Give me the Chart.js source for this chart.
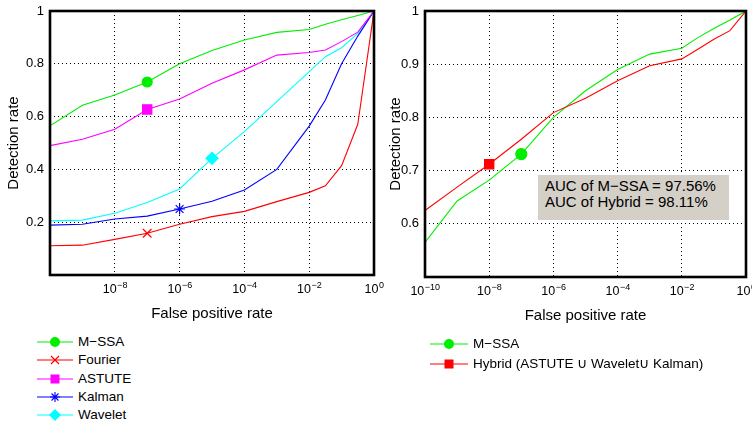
<!DOCTYPE html>
<html><head><meta charset="utf-8">
<script src="https://cdn.jsdelivr.net/npm/chart.js@4/dist/chart.umd.min.js"></script>
<style>
html,body{margin:0;padding:0;background:#fff;}
body{width:752px;height:427px;overflow:hidden;position:relative;font-family:"Liberation Sans",Arial,sans-serif;color:#000;}
#c1{position:absolute;left:0;top:0;}
#c2{position:absolute;left:380px;top:0;}
.row{position:absolute;white-space:nowrap;height:18px;line-height:18px;font-size:13.5px;}
.row svg{position:absolute;left:0;top:0;}
.row span{position:absolute;top:0;}
#auc{position:absolute;left:538px;top:175px;width:191px;height:45px;background:#d4d0c8;font-size:15px;line-height:16px;padding:3px 0 0 7px;box-sizing:border-box;white-space:nowrap;}
</style>
</head><body>
<canvas id="c1" width="395" height="330"></canvas>
<canvas id="c2" width="372" height="330"></canvas>
<div id="auc"></div>
<div id="legL"></div>
<div id="legR"></div>
<script>
// ---- data ----
const fpr      = [1e-10, 1e-9, 1e-8, 1e-7, 1e-6, 1e-5, 1e-4, 1e-3, 1e-2, 0.0316, 0.1, 0.316, 1];
const msSA     = [0.565, 0.643, 0.682, 0.731, 0.800, 0.850, 0.890, 0.919, 0.930, 0.950, 0.967, 0.983, 1.0];
const fourier  = [0.111, 0.113, 0.135, 0.158, 0.192, 0.221, 0.241, 0.278, 0.313, 0.338, 0.414, 0.571, 1.0];
const astute   = [0.490, 0.514, 0.552, 0.627, 0.667, 0.726, 0.777, 0.833, 0.843, 0.852, 0.884, 0.920, 1.0];
const kalman   = [0.189, 0.192, 0.212, 0.223, 0.250, 0.279, 0.322, 0.400, 0.564, 0.663, 0.800, 0.905, 1.0];
const wavelet  = [0.205, 0.208, 0.234, 0.275, 0.326, 0.442, 0.543, 0.657, 0.770, 0.827, 0.861, 0.915, 1.0];
const hybrid   = [0.625, 0.669, 0.712, 0.759, 0.809, 0.836, 0.869, 0.897, 0.910, 0.928, 0.947, 0.963, 1.0];

const leftXTicks   = [1e-8, 1e-6, 1e-4, 1e-2, 1];
const leftXLabels  = ['10^\u22128', '10^\u22126', '10^\u22124', '10^\u22122', '10^0'];
const rightXTicks  = [1e-10, 1e-8, 1e-6, 1e-4, 1e-2, 1];
const rightXLabels = ['10^\u221210', '10^\u22128', '10^\u22126', '10^\u22124', '10^\u22122', '10^0'];
const leftYTicks   = [0.2, 0.4, 0.6, 0.8, 1];
const leftYLabels  = ['0.2', '0.4', '0.6', '0.8', '1'];
const rightYTicks  = [0.6, 0.7, 0.8, 0.9, 1];
const rightYLabels = ['0.6', '0.7', '0.8', '0.9', '1'];
const aucLines = ['AUC of M\u2212SSA = 97.56%', 'AUC of Hybrid = 98.11%'];
const leftNames  = ['M\u2212SSA', 'Fourier', 'ASTUTE', 'Kalman', 'Wavelet'];
const rightNames = ['M\u2212SSA', 'Hybrid (ASTUTE \u222A Wavelet\u222A Kalman)'];
const xTitle = 'False positive rate';
const yTitle = 'Detection rate';

// ---- styles ----
const FONT = '"Liberation Sans", Arial, sans-serif';
const styles = {
  msSA:    {color:'#00ee00', style:'circle',   r:5,   mi:3},
  fourier: {color:'#ff0000', style:'crossRot', r:6,   mi:3},
  astute:  {color:'#ff00ff', style:'rect',     r:6.5, mi:3},
  kalman:  {color:'#0000ff', style:'star',     r:5.5, mi:4},
  wavelet: {color:'#00ffff', style:'rectRot',  r:6,   mi:5},
  hybridR: {color:'#ff0000', style:'rect',     r:6.5, mi:2},
  msSAR:   {color:'#00ee00', style:'circle',   r:5.5, mi:3}
};

function ds(label, values, st){
  return {
    label, data: fpr.map((x,i)=>({x, y: values[i]})),
    borderColor: st.color, backgroundColor: st.color, borderWidth: 1.1,
    tension: 0, fill: false,
    pointStyle: st.style,
    pointRadius: c => c.dataIndex === st.mi ? st.r : 0,
    pointHoverRadius: c => c.dataIndex === st.mi ? st.r : 0,
    pointBackgroundColor: st.color, pointBorderColor: st.color, pointBorderWidth: 1.2
  };
}

const frame = {
  id:'frame',
  afterDatasetsDraw(chart){
    const a = chart.chartArea, c = chart.ctx;
    c.save(); c.strokeStyle = '#000'; c.lineWidth = 2.6;
    c.strokeRect(a.left, a.top, a.right - a.left, a.bottom - a.top);
    c.restore();
  }
};

// x tick labels "10" with a raised exponent, placed through the x scale
const expLabels = {
  id:'expLabels',
  afterDraw(chart){
    const o = chart.options.plugins.expLabels;
    const s = chart.scales.x, c = chart.ctx;
    c.save(); c.fillStyle = '#000'; c.textBaseline = 'alphabetic'; c.textAlign = 'left';
    o.ticks.forEach((v,i)=>{
      const [base, exp] = o.labels[i].split('^');
      const x = s.getPixelForValue(v);
      c.font = '12.5px ' + FONT; const w1 = c.measureText(base).width;
      c.font = '9px ' + FONT;  const w2 = c.measureText(exp).width;
      const x0 = x - (w1 + w2) / 2, yb = s.top + o.base;
      c.font = '12.5px ' + FONT; c.fillText(base, x0, yb);
      c.font = '9px ' + FONT; c.fillText(exp, x0 + w1 + 0.5, yb - 5.5);
    });
    c.restore();
  }
};

function makeOpts(cfg){
  return {
    responsive:false, animation:false, devicePixelRatio:1,
    layout:{padding:{left:0, top:cfg.padTop, right:cfg.padRight, bottom:0}},
    plugins:{legend:{display:false}, tooltip:{enabled:false},
      expLabels:{ticks:cfg.xTicks, labels:cfg.xLabels, base:cfg.xBase}},
    events:[],
    scales:{
      x:{
        type:'logarithmic', min:1e-10, max:1,
        afterBuildTicks: s => { s.ticks = cfg.xTicks.map(v=>({value:v})); },
        afterFit: s => { s.height = cfg.xHeight; s.paddingLeft = 0; s.paddingRight = 0; },
        ticks:{ display:false, autoSkip:false, maxRotation:0 },
        grid:{ color:'#000', lineWidth:1, drawTicks:false },
        border:{ display:false, dash:[1,3] },
        title:{ display:true, text:xTitle, color:'#000', font:{family:FONT, size:15}, padding:{top:0, bottom:cfg.xTitlePad} }
      },
      y:{
        type:'linear', min:cfg.yMin, max:1,
        afterBuildTicks: s => { s.ticks = cfg.yTicks.map(v=>({value:v})); },
        afterFit: s => { s.width = cfg.yWidth; s.paddingTop = 0; s.paddingBottom = 0; },
        ticks:{ autoSkip:false, padding:cfg.yTickPad, color:'#000', font:{family:FONT, size:13},
          callback: v => { const i = cfg.yTicks.findIndex(t => Math.abs(t - v) < 1e-9); return i >= 0 ? cfg.yLabels[i] : ''; } },
        grid:{ color:'#000', lineWidth:1, drawTicks:false },
        border:{ display:false, dash:[1,3] },
        title:{ display:true, text:yTitle, color:'#000', font:{family:FONT, size:15}, padding:{top:cfg.yTitlePad, bottom:0} }
      }
    }
  };
}

new Chart(document.getElementById('c1'), {
  type:'line',
  data:{ datasets:[
    ds(leftNames[0], msSA, styles.msSA),
    ds(leftNames[1], fourier, styles.fourier),
    ds(leftNames[2], astute, styles.astute),
    ds(leftNames[3], kalman, styles.kalman),
    ds(leftNames[4], wavelet, styles.wavelet)
  ]},
  options: makeOpts({padTop:11, padRight:21, xHeight:55, yWidth:50, yMin:0,
    xTicks:leftXTicks, xLabels:leftXLabels, yTicks:leftYTicks, yLabels:leftYLabels,
    xBase:18, yTickPad:6, xTitlePad:7, yTitlePad:5}),
  plugins:[frame, expLabels]
});

new Chart(document.getElementById('c2'), {
  type:'line',
  data:{ datasets:[
    ds(rightNames[1], hybrid, styles.hybridR),
    ds(rightNames[0], msSA, styles.msSAR)
  ]},
  options: makeOpts({padTop:11, padRight:6, xHeight:53, yWidth:45, yMin:0.5,
    xTicks:rightXTicks, xLabels:rightXLabels, yTicks:rightYTicks, yLabels:rightYLabels,
    xBase:18, yTickPad:6, xTitlePad:5, yTitlePad:7}),
  plugins:[frame, expLabels]
});

// ---- AUC box ----
document.getElementById('auc').innerHTML = aucLines.join('<br>');

// ---- legends ----
function markerSVG(st, cx, cy, len){
  const c = st.color; let m = '';
  if (st.style === 'circle') m = `<circle cx="${cx}" cy="${cy}" r="5" fill="${c}"/>`;
  else if (st.style === 'crossRot') m = `<path d="M${cx-4},${cy-4}L${cx+4},${cy+4}M${cx-4},${cy+4}L${cx+4},${cy-4}" stroke="${c}" stroke-width="1.2"/>`;
  else if (st.style === 'rect') m = `<rect x="${cx-4.5}" y="${cy-4.5}" width="9" height="9" fill="${c}"/>`;
  else if (st.style === 'star') m = `<path d="M${cx-5},${cy}L${cx+5},${cy}M${cx},${cy-5}L${cx},${cy+5}M${cx-3.5},${cy-3.5}L${cx+3.5},${cy+3.5}M${cx-3.5},${cy+3.5}L${cx+3.5},${cy-3.5}" stroke="${c}" stroke-width="1.1"/>`;
  else if (st.style === 'rectRot') m = `<path d="M${cx-6},${cy}L${cx},${cy-6}L${cx+6},${cy}L${cx},${cy+6}Z" fill="${c}"/>`;
  return `<svg width="${len}" height="18"><line x1="0" y1="${cy}" x2="${len}" y2="${cy}" stroke="${c}" stroke-width="1.2"/>${m}</svg>`;
}
function buildLegend(el, names, sts, x0, len, y0, dy, tx){
  let h = '';
  names.forEach((n,i)=>{
    const top = y0 + i*dy - 9;
    h += `<div class="row" style="left:${x0}px;top:${top}px;width:400px">${markerSVG(sts[i], len/2, 9, len)}<span style="left:${tx}px">${n}</span></div>`;
  });
  el.innerHTML = h;
}
buildLegend(document.getElementById('legL'), leftNames,
  [styles.msSA, styles.fourier, styles.astute, styles.kalman, styles.wavelet], 37, 36, 342, 18.3, 41);
buildLegend(document.getElementById('legR'), rightNames,
  [styles.msSAR, styles.hybridR], 430, 38, 344, 20, 43);
</script>
</body></html>
